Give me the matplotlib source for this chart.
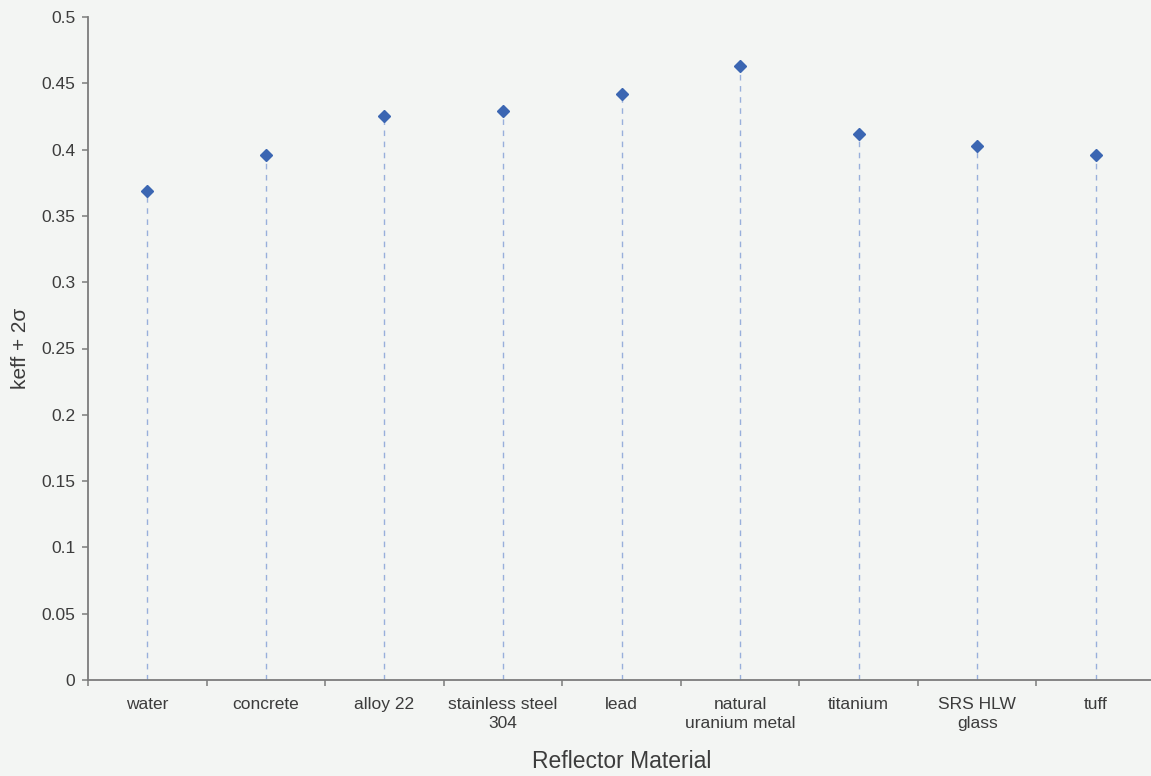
import matplotlib
matplotlib.use("Agg")
import matplotlib.pyplot as plt
import numpy as np

materials = ["water", "concrete", "alloy 22", "stainless steel\n304", "lead",
             "natural\nuranium metal", "titanium", "SRS HLW\nglass", "tuff"]
keff = [0.369, 0.396, 0.425, 0.429, 0.442, 0.463, 0.412, 0.403, 0.396]
yticks = [0, 0.05, 0.1, 0.15, 0.2, 0.25, 0.3, 0.35, 0.4, 0.45, 0.5]
ytick_labels = ["0", "0.05", "0.1", "0.15", "0.2", "0.25", "0.3", "0.35", "0.4", "0.45", "0.5"]

plt.rcParams['font.family'] = ['Liberation Sans', 'DejaVu Sans']

bg = '#f3f5f3'
spine_c = '#7c7c7c'
text_c = '#3c3c3c'

fig = plt.figure(figsize=(11.51, 7.76), dpi=100, facecolor=bg)
W, H = 1151, 776
ax = fig.add_axes([88 / W, 96 / H, 1067 / W, 663 / H])
ax.set_facecolor('none')

x = np.arange(len(materials))
ax.vlines(x, 0, keff, colors='#98afdb', linestyles=(0, (4, 4)), linewidth=1.0, zorder=2)
ax.plot(x, keff, linestyle='none', marker='D', markersize=6.5,
        color='#3b66b2', markeredgecolor='#3b66b2', zorder=3)

ax.set_xlim(-0.5, len(materials) - 0.5)
ax.set_ylim(0, 0.5)

for s in ['top', 'right']:
    ax.spines[s].set_visible(False)
for s in ['left', 'bottom']:
    ax.spines[s].set_color(spine_c)
    ax.spines[s].set_linewidth(1.3)

ax.set_yticks(yticks)
ax.set_yticklabels(ytick_labels)
ax.tick_params(axis='y', direction='out', length=4, width=1.1, color=spine_c,
               labelsize=12.5, labelcolor=text_c, pad=5)

ax.set_xticks(np.arange(len(materials) + 1) - 0.5)
ax.set_xticklabels([])
ax.set_xticks(x, minor=True)
ax.set_xticklabels(materials, minor=True)
ax.tick_params(axis='x', which='major', direction='out', length=4, width=1.1, color=spine_c)
ax.tick_params(axis='x', which='minor', length=0, labelsize=12.5, labelcolor=text_c, pad=12)
for lbl in ax.get_xticklabels(minor=True):
    lbl.set_linespacing(1.4)

ax.set_xlabel("Reflector Material", fontsize=16.5, color=text_c)
ax.xaxis.set_label_coords(0.5, -82 / 663)
ax.xaxis.label.set_verticalalignment('center')
ax.set_ylabel("keff + 2σ", fontsize=15, color=text_c)
ax.yaxis.set_label_coords(-68 / 1067, 0.5)
ax.yaxis.label.set_verticalalignment('center')

fig.savefig("out.png", dpi=100, facecolor=bg)
